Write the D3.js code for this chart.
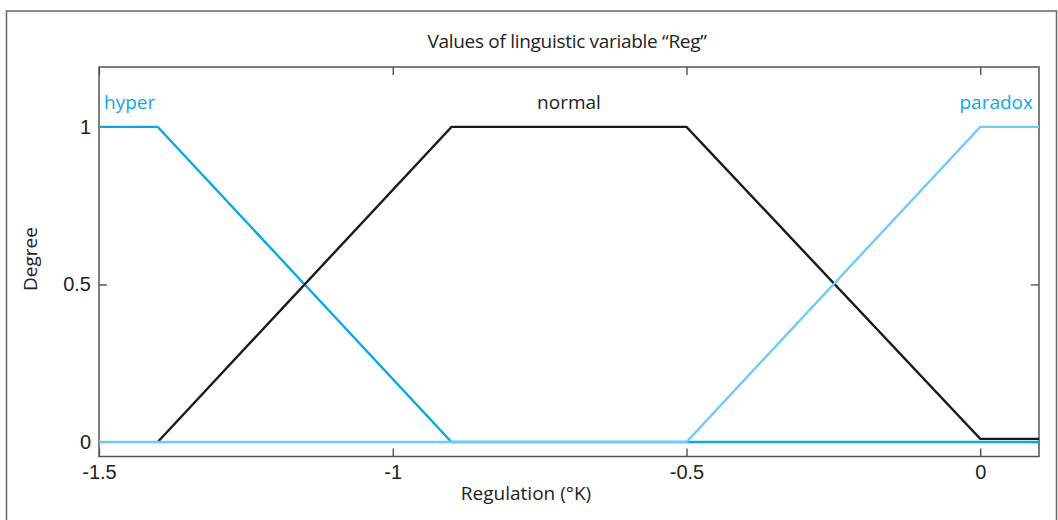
<!DOCTYPE html>
<html>
<head>
<meta charset="utf-8">
<script src="https://cdn.jsdelivr.net/npm/d3@7"></script>
<style>
  body { margin: 0; background: #fff; }
  svg { display: block; font-family: 'Open Sans', 'Noto Sans', sans-serif; }
</style>
</head>
<body>
<div id="chart"></div>
<script>
// membership functions of "Reg", breakpoints
const hyperX = [-1.5, -1.4, -0.9, 0.1];
const hyperY = [1, 1, 0, 0];
const normalX = [-1.4, -0.9, -0.5, 0, 0.1];
const normalY = [0, 1, 1, 0.01, 0.01];
const paradoxX = [-1.5, -0.5, 0, 0.1];
const paradoxY = [0, 0, 1, 1];

const xTicks = [-1.5, -1, -0.5, 0];
const yTicks = [0, 0.5, 1];

const width = 1058;
const height = 520;
const margin = { top: 67, right: 19, bottom: 63.5, left: 99 };
const innerW = width - margin.left - margin.right;
const innerH = height - margin.top - margin.bottom;

const svg = d3
  .select('#chart')
  .append('svg')
  .attr('width', width)
  .attr('height', height);

// outer frame
svg
  .append('rect')
  .attr('x', 6.5)
  .attr('y', 11)
  .attr('width', 1050)
  .attr('height', 530)
  .attr('fill', 'none')
  .attr('stroke', '#666')
  .attr('stroke-width', 1.5);

const g = svg
  .append('g')
  .attr('transform', `translate(${margin.left}, ${margin.top})`);

const x = d3.scaleLinear().domain([-1.5, 0.1]).range([0, innerW]);
const y = d3.scaleLinear().domain([-0.046, 1.19]).range([innerH, 0]);

// axes with inward ticks on all four sides
const fmt = (d) => (d === 0 ? '0' : String(d));
const axisStyle = (sel) => {
  sel.select('.domain').remove();
  sel.selectAll('line').attr('stroke', '#333').attr('stroke-width', 1.2);
  sel.selectAll('text').attr('fill', '#222').style('font-size', '20px');
};

g.append('g')
  .attr('transform', `translate(0, ${innerH})`)
  .call(d3.axisBottom(x).tickValues(xTicks).tickFormat(fmt).tickSizeInner(-8).tickPadding(8))
  .call(axisStyle);
g.append('g')
  .call(d3.axisTop(x).tickValues(xTicks).tickFormat('').tickSizeInner(-8))
  .call(axisStyle);
g.append('g')
  .call(d3.axisLeft(y).tickValues(yTicks).tickFormat(fmt).tickSizeInner(-8).tickPadding(8))
  .call(axisStyle);
g.append('g')
  .attr('transform', `translate(${innerW}, 0)`)
  .call(d3.axisRight(y).tickValues(yTicks).tickFormat('').tickSizeInner(-8))
  .call(axisStyle);

// plot box
g.append('rect')
  .attr('width', innerW)
  .attr('height', innerH)
  .attr('fill', 'none')
  .attr('stroke', '#555')
  .attr('stroke-width', 1.5);

const line = d3
  .line()
  .x((d) => x(d[0]))
  .y((d) => y(d[1]));

const series = [
  { xs: hyperX, ys: hyperY, color: '#0ea8e3' },
  { xs: normalX, ys: normalY, color: '#1a1a1a' },
  { xs: paradoxX, ys: paradoxY, color: '#6dcdf2' },
];

g.selectAll('path.mf')
  .data(series)
  .join('path')
  .attr('class', 'mf')
  .attr('d', (s) => line(s.xs.map((v, i) => [v, s.ys[i]])))
  .attr('fill', 'none')
  .attr('stroke', (s) => s.color)
  .attr('stroke-width', 2.4);

// curve names
const nameY = y(1) - 18;
g.append('text')
  .attr('x', 5)
  .attr('y', nameY)
  .attr('fill', '#0ea8e3')
  .style('font-size', '19px')
  .text('hyper');
g.append('text')
  .attr('x', x(-0.7))
  .attr('y', nameY)
  .attr('text-anchor', 'middle')
  .attr('fill', '#222')
  .style('font-size', '19px')
  .text('normal');
g.append('text')
  .attr('x', innerW - 6)
  .attr('y', nameY)
  .attr('text-anchor', 'end')
  .attr('fill', '#0ea8e3')
  .style('font-size', '19px')
  .text('paradox');

// title and axis labels
svg.append('text')
  .attr('x', 567)
  .attr('y', 48)
  .attr('text-anchor', 'middle')
  .attr('fill', '#222')
  .style('font-size', '19px')
  .style('letter-spacing', '-0.3px')
  .text('Values of linguistic variable “Reg”');
svg.append('text')
  .attr('x', 526)
  .attr('y', 500)
  .attr('text-anchor', 'middle')
  .attr('fill', '#222')
  .style('font-size', '19px')
  .text('Regulation (°K)');
svg.append('text')
  .attr('transform', 'translate(37, 259) rotate(-90)')
  .attr('text-anchor', 'middle')
  .attr('fill', '#222')
  .style('font-size', '19px')
  .text('Degree');
</script>
</body>
</html>
